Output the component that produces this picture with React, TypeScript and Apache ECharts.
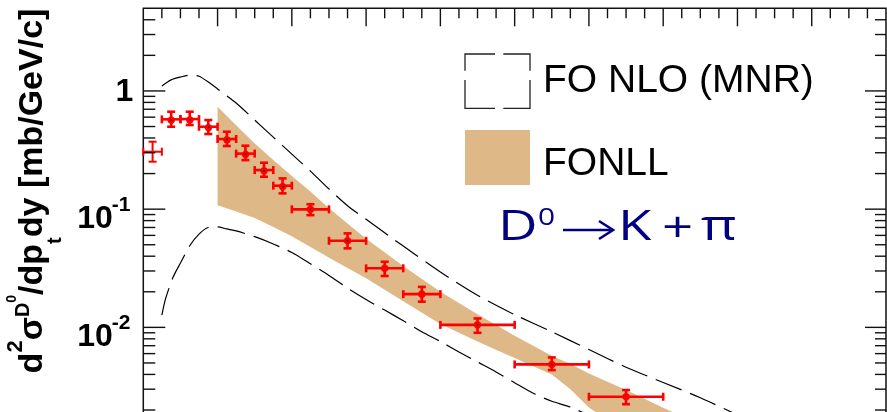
import { useEffect, useRef } from "react";
import * as echarts from "echarts";

const SANS = "'Liberation Sans', Arial, Helvetica, sans-serif";
const CHANNEL_FONT = "'Open Sans', 'Noto Sans', sans-serif";
const RED = "#ff0000";
const NAVY = "#000080";

// D0 -> K pi cross section, pT bins in GeV/c, values in mb/GeV/c
const ptLow = [0, 0.5, 1, 1.5, 2, 2.5, 3, 3.5, 4, 5, 6, 7, 8, 10, 12];
const ptHigh = [0.5, 1, 1.5, 2, 2.5, 3, 3.5, 4, 5, 6, 7, 8, 10, 12, 14];
const d0Yield = [0.306, 0.575, 0.578, 0.498, 0.392, 0.295, 0.214, 0.158, 0.0996, 0.054, 0.0316, 0.0191, 0.0105, 0.00486, 0.00259];
const d0YieldHigh = [0.372, 0.667, 0.667, 0.567, 0.452, 0.344, 0.247, 0.182, 0.11, 0.0624, 0.0359, 0.022, 0.0119, 0.00557, 0.00295];
const d0YieldLow = [0.252, 0.498, 0.515, 0.432, 0.342, 0.26, 0.188, 0.136, 0.089, 0.0466, 0.0272, 0.0165, 0.009, 0.00435, 0.00224];

// FONLL uncertainty band
const fonllPt = [2, 2.5, 3, 3.5, 4, 4.5, 5, 6, 7, 8, 9, 10, 11, 11.5, 12, 13, 14, 15, 16];
const fonllHigh = [0.735, 0.513, 0.36, 0.26, 0.191, 0.141, 0.102, 0.0562, 0.0331, 0.02, 0.0129, 0.0085, 0.00575, 0.0049, 0.00407, 0.00295, 0.00209, 0.00151, 0.0011];
const fonllLow = [0.108, 0.0955, 0.0841, 0.0708, 0.0589, 0.0479, 0.0389, 0.026, 0.0166, 0.0107, 0.00759, 0.0055, 0.004, 0.003, 0.0021, 0.0013, 0.0009, 0.0007, 0.0005];

// FO NLO (MNR) upper and lower curves
const mnrHighPt = [0.5, 0.75, 1, 1.25, 1.5, 1.75, 2, 2.5, 3, 3.5, 4, 4.5, 5, 5.5, 6, 7, 8, 9, 10, 11, 12, 13, 14, 15, 16, 17];
const mnrHigh = [1.1, 1.24, 1.31, 1.36, 1.33, 1.19, 1.04, 0.79, 0.567, 0.407, 0.292, 0.21, 0.148, 0.107, 0.082, 0.0487, 0.0294, 0.0187, 0.0128, 0.00918, 0.00649, 0.0046, 0.00342, 0.00254, 0.00182, 0.00135];
const mnrLowPt = [0.5, 0.6, 0.8, 1, 1.25, 1.5, 1.75, 2, 2.25, 2.5, 3, 3.5, 4, 4.5, 5, 5.5, 6, 6.5, 7, 7.5, 8, 8.5, 9, 9.5, 10, 10.5, 11, 11.5, 12];
const mnrLow = [0.0127, 0.0175, 0.0265, 0.035, 0.049, 0.0615, 0.07, 0.0708, 0.068, 0.0655, 0.0585, 0.0508, 0.043, 0.0345, 0.0275, 0.0215, 0.0172, 0.014, 0.0114, 0.0092, 0.0076, 0.0062, 0.0051, 0.0042, 0.0034, 0.00277, 0.00237, 0.00212, 0.0018];

// Axes
const ptMin = 0;
const ptMax = 20;
const ptMajorStep = 2;
const ptMinorStep = 0.5;
const yMin = 0.001;
const yMax = 5;
const yDecades = [0.001, 0.01, 0.1, 1];
const yMantissas = [1, 2, 3, 4, 5, 6, 7, 8, 9];
const yLabelValues = [1, 0.1, 0.01];
const yLabelBase = ["1", "10", "10"];
const yLabelExp = ["", "-1", "-2"];

const legendNames = ["FO NLO (MNR)", "FONLL"];

function buildYTicks() {
  const out: number[][] = [];
  for (const d of yDecades) {
    for (const m of yMantissas) {
      const v = d * m;
      if (v < yMax) out.push([ptMin, v, m === 1 ? 1 : 0]);
    }
  }
  return out;
}

function buildXTicks() {
  const out: number[][] = [];
  for (let x = ptMin + ptMinorStep; x < ptMax; x += ptMinorStep) {
    const major = Math.abs(x / ptMajorStep - Math.round(x / ptMajorStep)) < 1e-6 ? 1 : 0;
    out.push([x, yMax, major]);
  }
  return out;
}

function channelText(text: string, x: number, y: number, size: number) {
  return {
    type: "text",
    x,
    y,
    scaleX: 1.3,
    style: { text, fontFamily: CHANNEL_FONT, fontSize: size, fill: NAVY, align: "left", verticalAlign: "middle" },
  };
}

export default function App() {
  const ref = useRef<HTMLDivElement>(null);

  useEffect(() => {
    document.body.style.margin = "0";
    const chart = echarts.init(ref.current!, null, { renderer: "svg" });

    const option: any = {
      animation: false,
      grid: {
        left: 143.3,
        right: 1,
        top: 8.3,
        bottom: -33.6,
        show: true,
        borderColor: "#111",
        borderWidth: 1.5,
        backgroundColor: "transparent",
        containLabel: false,
        outerBoundsMode: "none",
      },
      xAxis: { type: "value", min: ptMin, max: ptMax, show: false },
      yAxis: { type: "log", logBase: 10, min: yMin, max: yMax, show: false },
      series: [
        {
          name: legendNames[1],
          type: "custom",
          coordinateSystem: "cartesian2d",
          clip: true,
          z: 1,
          silent: true,
          data: [[fonllPt[0], fonllHigh[0]]],
          renderItem: (_p: any, api: any) => {
            const pts: number[][] = [];
            fonllPt.forEach((x, i) => pts.push(api.coord([x, fonllHigh[i]])));
            for (let i = fonllPt.length - 1; i >= 0; i--) pts.push(api.coord([fonllPt[i], fonllLow[i]]));
            return { type: "polygon", shape: { points: pts }, style: { fill: "#deb887", stroke: "none" } };
          },
        },
        {
          name: legendNames[0],
          type: "line",
          data: mnrHighPt.map((x, i) => [x, mnrHigh[i]]),
          symbol: "none",
          smooth: 0.25,
          z: 3,
          silent: true,
          lineStyle: { color: "#000", width: 1.2, type: [28, 9] },
        },
        {
          name: legendNames[0] + " low",
          type: "line",
          data: mnrLowPt.map((x, i) => [x, mnrLow[i]]),
          symbol: "none",
          smooth: 0.25,
          z: 3,
          silent: true,
          lineStyle: { color: "#000", width: 1.2, type: [28, 9] },
        },
        {
          name: "D0",
          type: "custom",
          coordinateSystem: "cartesian2d",
          clip: false,
          z: 10,
          silent: true,
          encode: { x: 0, y: 1 },
          data: d0Yield.map((v, i) => [(ptLow[i] + ptHigh[i]) / 2, v, ptLow[i], ptHigh[i], d0YieldLow[i], d0YieldHigh[i], i]),
          renderItem: (_p: any, api: any) => {
            const xc = api.value(0);
            const yv = api.value(1);
            const c = api.coord([xc, yv]);
            const l = api.coord([api.value(2), yv]);
            const r = api.coord([api.value(3), yv]);
            const lo = api.coord([xc, api.value(4)]);
            const hi = api.coord([xc, api.value(5)]);
            const open = api.value(6) === 0;
            const lw = open ? 2 : 2.6;
            const cap = 4;
            const st = { stroke: RED, lineWidth: lw };
            const ln = (x1: number, y1: number, x2: number, y2: number) => ({
              type: "line",
              shape: { x1, y1, x2, y2 },
              style: st,
            });
            const children: any[] = [
              ln(l[0], c[1], r[0], c[1]),
              ln(l[0], c[1] - cap, l[0], c[1] + cap),
              ln(r[0], c[1] - cap, r[0], c[1] + cap),
              ln(c[0], lo[1], c[0], hi[1]),
              ln(c[0] - cap, lo[1], c[0] + cap, lo[1]),
              ln(c[0] - cap, hi[1], c[0] + cap, hi[1]),
            ];
            if (!open) {
              children.push({ type: "circle", shape: { cx: c[0], cy: c[1], r: 3.8 }, style: { fill: RED } });
              children.push({ type: "circle", shape: { cx: c[0], cy: c[1], r: 0.8 }, style: { fill: "#000" } });
            }
            return { type: "group", children };
          },
        },
        {
          name: "yTicks",
          type: "custom",
          coordinateSystem: "cartesian2d",
          clip: false,
          z: 20,
          silent: true,
          encode: { x: 0, y: 1 },
          data: buildYTicks(),
          renderItem: (_p: any, api: any) => {
            const v = api.value(1);
            const major = api.value(2) === 1;
            const a = api.coord([ptMin, v]);
            const b = api.coord([ptMax, v]);
            const st = { stroke: "#111", lineWidth: 1.4 };
            return {
              type: "group",
              children: [
                { type: "line", shape: { x1: a[0], y1: a[1], x2: a[0] + (major ? 22 : 12), y2: a[1] }, style: st },
                { type: "line", shape: { x1: b[0], y1: b[1], x2: b[0] - (major ? 21 : 11), y2: b[1] }, style: st },
              ],
            };
          },
        },
        {
          name: "xTicks",
          type: "custom",
          coordinateSystem: "cartesian2d",
          clip: false,
          z: 20,
          silent: true,
          encode: { x: 0, y: 1 },
          data: buildXTicks(),
          renderItem: (_p: any, api: any) => {
            const a = api.coord([api.value(0), api.value(1)]);
            const major = api.value(2) === 1;
            return {
              type: "line",
              shape: { x1: a[0], y1: a[1], x2: a[0], y2: a[1] + (major ? 18 : 10) },
              style: { stroke: "#111", lineWidth: 1.4 },
            };
          },
        },
        {
          name: "yLabels",
          type: "custom",
          coordinateSystem: "cartesian2d",
          clip: false,
          z: 20,
          silent: true,
          encode: { x: 0, y: 1 },
          data: yLabelValues.map((v, i) => [ptMin, v, i]),
          renderItem: (_p: any, api: any) => {
            const p = api.coord([ptMin, api.value(1)]);
            const i = api.value(2);
            const font = (s: number) => ({ fontFamily: SANS, fontWeight: "bold", fontSize: s, fill: "#000" });
            if (!yLabelExp[i]) {
              return {
                type: "text",
                x: p[0] - 10,
                y: p[1] - 1,
                style: { text: yLabelBase[i], align: "right", verticalAlign: "middle", ...font(32) },
              };
            }
            return {
              type: "group",
              children: [
                {
                  type: "text",
                  x: p[0] - 30.5,
                  y: p[1] + 7.5,
                  style: { text: yLabelBase[i], align: "right", verticalAlign: "middle", ...font(32) },
                },
                {
                  type: "text",
                  x: p[0] - 31.5,
                  y: p[1] - 5.5,
                  style: { text: yLabelExp[i], align: "left", verticalAlign: "middle", ...font(21) },
                },
              ],
            };
          },
        },
      ],
      graphic: [
        // y-axis title
        {
          type: "text",
          x: 30,
          y: 191,
          rotation: Math.PI / 2,
          style: {
            text: "{m|d}{s|2}{m|σ}{d|D}{z|0}{m|/dp}{t|t}{m|dy [mb/GeV/c]}",
            align: "center",
            verticalAlign: "middle",
            fill: "#000",
            rich: {
              m: { fontFamily: SANS, fontWeight: "bold", fontSize: 34, fill: "#000" },
              s: { fontFamily: SANS, fontWeight: "bold", fontSize: 22, fill: "#000", padding: [0, 0, 31, 0] },
              d: { fontFamily: SANS, fontWeight: "bold", fontSize: 20, fill: "#000", padding: [0, 0, 16, 0] },
              z: { fontFamily: SANS, fontWeight: "bold", fontSize: 14, fill: "#000", padding: [0, 0, 38, 0] },
              t: { fontFamily: SANS, fontWeight: "bold", fontSize: 20, fill: "#000", padding: [48, 0, 0, 0] },
            },
          },
        },
        // legend: dashed box for FO NLO
        {
          type: "group",
          children: [
            { type: "polyline", shape: { points: [[495, 54], [465, 54], [465, 70.7]] }, style: { stroke: "#222", lineWidth: 1.3, fill: "none" } },
            { type: "polyline", shape: { points: [[503.3, 54], [530, 54], [530, 70.7]] }, style: { stroke: "#222", lineWidth: 1.3, fill: "none" } },
            { type: "polyline", shape: { points: [[465, 80], [465, 108.3], [495, 108.3]] }, style: { stroke: "#222", lineWidth: 1.3, fill: "none" } },
            { type: "polyline", shape: { points: [[530, 80], [530, 108.3], [503.3, 108.3]] }, style: { stroke: "#222", lineWidth: 1.3, fill: "none" } },
          ],
        },
        {
          type: "text",
          x: 543,
          y: 78,
          style: { text: legendNames[0], fontFamily: SANS, fontSize: 39, fill: "#000", align: "left", verticalAlign: "middle" },
        },
        { type: "rect", shape: { x: 465, y: 130, width: 65, height: 55 }, style: { fill: "#deb887" } },
        {
          type: "text",
          x: 543,
          y: 161.5,
          style: { text: legendNames[1], fontFamily: SANS, fontSize: 39, fill: "#000", align: "left", verticalAlign: "middle" },
        },
        // decay channel D0 -> K + pi
        channelText("D", 498, 223.5, 42),
        channelText("0", 538, 216, 23),
        {
          type: "group",
          children: [
            { type: "line", shape: { x1: 563, y1: 230, x2: 612, y2: 230 }, style: { stroke: NAVY, lineWidth: 2.6 } },
            { type: "polyline", shape: { points: [[599, 221], [613, 230], [599, 239]] }, style: { stroke: NAVY, lineWidth: 2.6, fill: "none" } },
          ],
        },
        channelText("K", 618, 223.5, 42),
        channelText("+", 662, 226, 42),
        channelText("π", 701, 223.5, 42),
      ],
    };

    chart.setOption(option);
    return () => chart.dispose();
  }, []);

  return <div ref={ref} style={{ position: "fixed", left: 0, top: 0, width: 887, height: 412 }} />;
}
